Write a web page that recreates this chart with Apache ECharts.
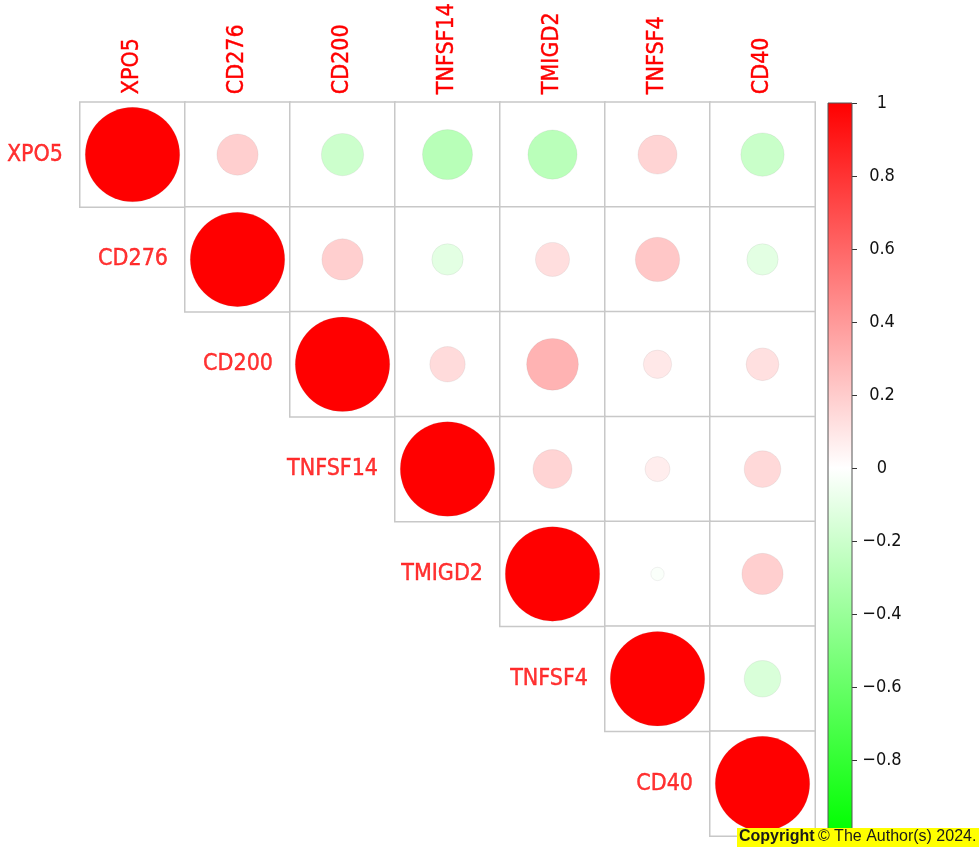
<!DOCTYPE html>
<html>
<head>
<meta charset="utf-8">
<title>Correlation matrix</title>
<script src="https://cdn.jsdelivr.net/npm/echarts@6/dist/echarts.min.js"></script>
<style>
  html, body { margin: 0; padding: 0; background: #fff; }
  #chart { width: 979px; height: 847px; }
</style>
</head>
<body>
<div id="chart"></div>
<script>
// Genes, in matrix order (rows top to bottom, columns left to right)
const genes = ['XPO5', 'CD276', 'CD200', 'TNFSF14', 'TMIGD2', 'TNFSF4', 'CD40'];

// Upper-triangle Pearson correlations, one array per row (starting at the diagonal)
const rowXPO5    = [1, 0.19, -0.20, -0.28, -0.27, 0.17, -0.21];
const rowCD276   = [1, 0.19, -0.11, 0.13, 0.22, -0.11];
const rowCD200   = [1, 0.14, 0.30, 0.09, 0.12];
const rowTNFSF14 = [1, 0.17, 0.07, 0.15];
const rowTMIGD2  = [1, -0.02, 0.19];
const rowTNFSF4  = [1, -0.15];
const rowCD40    = [1];

// Colour-bar tick values
const barTicks = [1, 0.8, 0.6, 0.4, 0.2, 0, -0.2, -0.4, -0.6, -0.8];

const rows = [rowXPO5, rowCD276, rowCD200, rowTNFSF14, rowTMIGD2, rowTNFSF4, rowCD40];
const n = genes.length;

// [column, row, r] triples for the upper triangle
const cells = [];
rows.forEach((vals, i) => {
  vals.forEach((v, k) => cells.push([i + k, i, v]));
});
const diag = genes.map((g, i) => [i, i, 1]);

const GRID = { left: 80, top: 101, width: 735, height: 735 };
const cellSize = GRID.width / n;
const labelFont = "'Liberation Sans Narrow', 'DejaVu Sans Condensed', 'Liberation Sans', sans-serif";
const RED = '#FF0000';

const chart = echarts.init(document.getElementById('chart'), null, { renderer: 'canvas' });

const fmtTick = v => (v < 0 ? '\u2212' + Math.abs(v) : String(v));

chart.setOption({
  animation: false,
  backgroundColor: '#ffffff',
  grid: [
    { left: GRID.left, top: GRID.top, width: GRID.width, height: GRID.height },
    { left: 828, top: 103, width: 24, height: 730 }
  ],
  xAxis: [
    {
      gridIndex: 0,
      type: 'category',
      data: genes,
      position: 'top',
      axisLine: { show: false },
      axisTick: { show: false },
      splitLine: { show: false },
      axisLabel: {
        rotate: -90,
        margin: 8,
        color: RED,
        fontSize: 23,
        fontFamily: labelFont,
        textBorderColor: RED,
        textBorderWidth: 0.4
      }
    },
    {
      gridIndex: 1,
      type: 'category',
      data: ['bar'],
      show: false
    }
  ],
  yAxis: [
    {
      gridIndex: 0,
      type: 'category',
      data: genes,
      inverse: true,
      show: false
    },
    {
      gridIndex: 1,
      type: 'value',
      min: -1,
      max: 1,
      interval: 0.2,
      position: 'right',
      axisLine: { show: false },
      axisTick: {
        show: true,
        inside: false,
        length: 5,
        lineStyle: { color: '#333', width: 1 },
        customValues: barTicks
      },
      splitLine: { show: false },
      axisLabel: {
        margin: 30,
        align: 'center',
        color: '#111',
        fontSize: 18,
        fontFamily: labelFont,
        customValues: barTicks,
        formatter: fmtTick
      }
    }
  ],
  visualMap: {
    show: false,
    type: 'continuous',
    min: -1,
    max: 1,
    dimension: 2,
    seriesIndex: 1,
    inRange: { color: ['#00FF00', '#FFFFFF', '#FF0000'] }
  },
  series: [
    // Cell outlines of the upper triangle
    {
      type: 'heatmap',
      xAxisIndex: 0,
      yAxisIndex: 0,
      data: cells.map(c => [c[0], c[1], 0]),
      itemStyle: { color: '#ffffff', borderColor: '#c8c8c8', borderWidth: 1.5 },
      emphasis: { disabled: true },
      z: 1
    },
    // Circles: area proportional to |r|, colour by r
    {
      type: 'scatter',
      xAxisIndex: 0,
      yAxisIndex: 0,
      data: cells,
      symbol: 'circle',
      symbolSize: d => 0.9 * cellSize * Math.sqrt(Math.abs(d[2])),
      itemStyle: { opacity: 1, borderColor: 'rgba(140,140,140,0.2)', borderWidth: 0.6 },
      z: 3
    },
    // Row names, placed just left of each diagonal cell
    {
      type: 'scatter',
      xAxisIndex: 0,
      yAxisIndex: 0,
      data: diag,
      symbolSize: cellSize,
      itemStyle: { color: 'rgba(0,0,0,0)' },
      silent: true,
      label: {
        show: true,
        position: 'left',
        distance: 17,
        color: RED,
        fontSize: 23,
        fontFamily: labelFont,
        textBorderColor: RED,
        textBorderWidth: 0.4,
        formatter: p => genes[p.data[1]]
      },
      z: 4
    },
    // Colour bar
    {
      type: 'custom',
      xAxisIndex: 1,
      yAxisIndex: 1,
      data: [[0, 1, -1]],
      renderItem: (params, api) => {
        const top = api.coord([0, api.value(1)]);
        const bottom = api.coord([0, api.value(2)]);
        const cs = params.coordSys;
        return {
          type: 'rect',
          shape: { x: cs.x, y: top[1], width: cs.width, height: bottom[1] - top[1] },
          style: {
            fill: new echarts.graphic.LinearGradient(0, 0, 0, 1, [
              { offset: 0, color: '#FF0000' },
              { offset: 0.5, color: '#FFFFFF' },
              { offset: 1, color: '#00FF00' }
            ]),
            stroke: '#555',
            lineWidth: 1
          }
        };
      },
      z: 2
    }
  ],
  graphic: [
    {
      type: 'group',
      left: 737,
      top: 828,
      z: 100,
      children: [
        { type: 'rect', z: 100, shape: { x: 0, y: 0, width: 242, height: 19 }, style: { fill: '#FFFF00' } },
        {
          type: 'text',
          z: 101,
          x: 2,
          y: 1,
          style: {
            text: '{b|Copyright} {r|\u00A9 The Author(s) 2024.}',
            rich: {
              b: { fontWeight: 'bold', fontSize: 16, fill: '#1a1a1a', fontFamily: "'Liberation Sans', Arial, sans-serif" },
              r: { fontSize: 16, fill: '#1a1a1a', fontFamily: "'Liberation Sans', Arial, sans-serif" }
            }
          }
        }
      ]
    }
  ]
});
</script>
</body>
</html>
